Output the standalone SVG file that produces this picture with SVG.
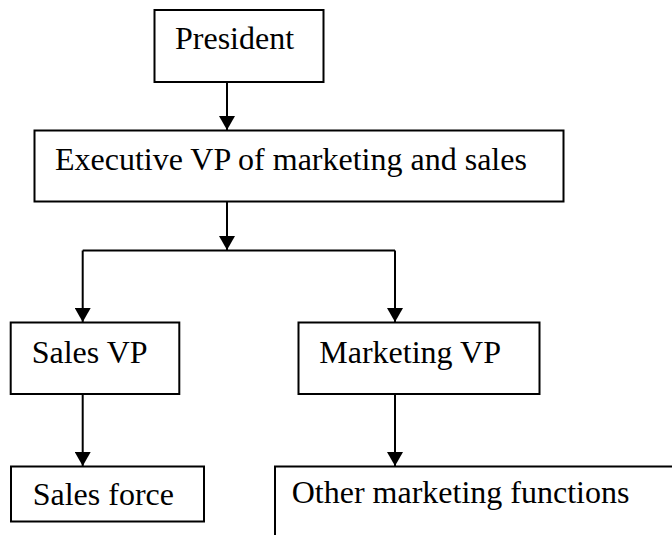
<svg xmlns="http://www.w3.org/2000/svg" width="672" height="535" viewBox="0 0 672 535">
<style>
.box{fill:#fff;stroke:#000;stroke-width:2}
.lbl{font-family:"Liberation Serif","Times New Roman",serif;font-size:32px;fill:#000}
.con{fill:none;stroke:#000;stroke-width:2}
</style>
<defs>
<marker id="arr" markerUnits="userSpaceOnUse" markerWidth="14" markerHeight="16" viewBox="0 0 14 16" refX="14" refY="8" orient="auto">
<path d="M0,0 L14,8 L0,16 Z" fill="#000"/>
</marker>
</defs>
<rect width="672" height="535" fill="#fff"/>
<g id="connectors">
<line class="con" x1="227" y1="82" x2="227" y2="130" marker-end="url(#arr)"/>
<line class="con" x1="227" y1="202" x2="227" y2="250" marker-end="url(#arr)"/>
<line class="con" x1="82.7" y1="250.5" x2="395" y2="250.5"/>
<line class="con" x1="82.7" y1="250.5" x2="82.7" y2="322" marker-end="url(#arr)"/>
<line class="con" x1="395" y1="250.5" x2="395" y2="322" marker-end="url(#arr)"/>
<line class="con" x1="82.7" y1="394" x2="82.7" y2="466" marker-end="url(#arr)"/>
<line class="con" x1="395" y1="394" x2="395" y2="466" marker-end="url(#arr)"/>
</g>
<g id="president">
<rect class="box" x="154.5" y="10" width="169" height="72"/>
<text class="lbl" x="175" y="49">President</text>
</g>
<g id="exec">
<rect class="box" x="34.5" y="130.5" width="529" height="71"/>
<text class="lbl" x="55" y="170">Executive VP of marketing and sales</text>
</g>
<g id="salesvp">
<rect class="box" x="10.7" y="322.5" width="168.6" height="71.5"/>
<text class="lbl" x="31.7" y="363">Sales VP</text>
</g>
<g id="marketingvp">
<rect class="box" x="298.5" y="322.5" width="241" height="71.5"/>
<text class="lbl" x="319.3" y="363">Marketing VP</text>
</g>
<g id="salesforce">
<rect class="box" x="11" y="466.5" width="193" height="55"/>
<text class="lbl" x="32.7" y="505">Sales force</text>
</g>
<g id="othermarketing">
<path class="con" d="M275,536 V466.5 H673"/>
<text class="lbl" x="291.7" y="503.3">Other marketing functions</text>
</g>
</svg>
